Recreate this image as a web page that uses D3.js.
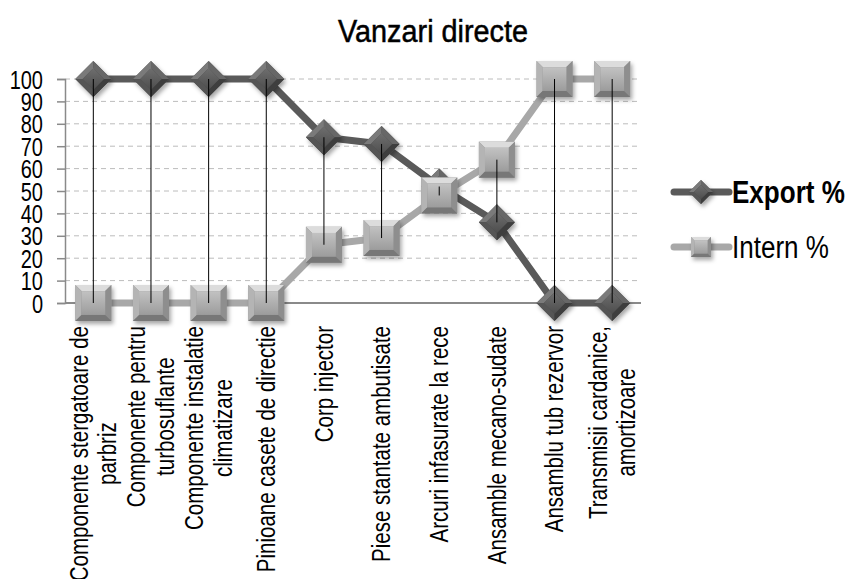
<!DOCTYPE html>
<html lang="en">
<head>
    <meta charset="UTF-8">
    <title>Vanzari directe</title>
    <script src="https://cdnjs.cloudflare.com/ajax/libs/d3/7.8.0/d3.min.js"></script>
    <style>
        body { margin: 0; background: #fff; }
        svg { display: block; }
        text { font-family: "Liberation Sans", Arial, sans-serif; fill: #000; }
    </style>
</head>
<body>

    <svg id="viz" width="854" height="579"></svg>

    <script>
        // data
        const categories = [
            ["Componente stergatoare de", "parbriz"],
            ["Componente pentru", "turbosuflante"],
            ["Componente instalatie", "climatizare"],
            ["Pinioane casete de directie"],
            ["Corp injector"],
            ["Piese stantate ambutisate"],
            ["Arcuri infasurate la rece"],
            ["Ansamble mecano-sudate"],
            ["Ansamblu tub rezervor"],
            ["Transmisii cardanice,", "amortizoare"]
        ];
        const exportValues = [100, 100, 100, 100, 74, 71, 52, 36, 0, 0];
        const internValues = [0, 0, 0, 0, 26, 29, 48, 64, 100, 100];
        const yTicks = [0, 10, 20, 30, 40, 50, 60, 70, 80, 90, 100];
        const seriesNames = ["Export %", "Intern %"];

        const svg = d3.select('#viz');
        const keys = categories.map((c, i) => i);

        const x = d3.scaleBand().domain(keys).range([64.5, 641]);
        const y = d3.scaleLinear().domain([0, 100]).range([303, 79]);
        const cx = i => x(i) + x.bandwidth() / 2;

        // no narrow font installed: squeeze the glyphs instead
        function narrow(sel, k) {
            sel.each(function () {
                const w = this.getComputedTextLength();
                d3.select(this).attr('textLength', w * k).attr('lengthAdjust', 'spacingAndGlyphs');
            });
            return sel;
        }

        // defs: shadow + gradients
        const defs = svg.append('defs');
        const f = defs.append('filter').attr('id', 'shadow')
            .attr('x', '-50%').attr('y', '-50%').attr('width', '200%').attr('height', '200%');
        f.append('feDropShadow').attr('dx', 2).attr('dy', 3).attr('stdDeviation', 2)
            .attr('flood-color', '#000').attr('flood-opacity', 0.35);

        const g1 = defs.append('linearGradient').attr('id', 'sqface').attr('x1', 0).attr('y1', 0).attr('x2', 0).attr('y2', 1);
        g1.append('stop').attr('offset', 0).attr('stop-color', '#c2c2c2');
        g1.append('stop').attr('offset', 1).attr('stop-color', '#9c9c9c');
        const g2 = defs.append('linearGradient').attr('id', 'dmface').attr('x1', 0).attr('y1', 0).attr('x2', 0).attr('y2', 1);
        g2.append('stop').attr('offset', 0).attr('stop-color', '#6e6e6e');
        g2.append('stop').attr('offset', 1).attr('stop-color', '#4e4e4e');

        // title
        narrow(svg.append('text')
            .attr('x', 433).attr('y', 42)
            .attr('text-anchor', 'middle')
            .style('font-size', '31px')
            .style('stroke', '#000').style('stroke-width', 0.5)
            .text('Vanzari directe'), 0.93);

        // grid lines
        svg.append('g').selectAll('line')
            .data(yTicks.filter(d => d > 0))
            .join('line')
            .attr('x1', 65).attr('x2', 641)
            .attr('y1', d => y(d)).attr('y2', d => y(d))
            .attr('stroke', '#bcbcbc').attr('stroke-width', 1)
            .attr('stroke-dasharray', '5,4');

        // y axis
        const yAxis = svg.append('g')
            .attr('transform', 'translate(65,0)')
            .call(d3.axisLeft(y).tickValues(yTicks).tickSize(8).tickPadding(14));
        yAxis.select('.domain').attr('stroke', '#8a8a8a').attr('stroke-width', 1.5);
        yAxis.selectAll('.tick line').attr('stroke', '#8a8a8a').attr('stroke-width', 1.5);
        narrow(yAxis.selectAll('.tick text')
            .attr('font-family', null)
            .attr('font-size', null)
            .style('font-size', '25px')
            .attr('dy', '0.36em'), 0.8);

        // zero line
        svg.append('line')
            .attr('x1', 65).attr('x2', 641)
            .attr('y1', y(0)).attr('y2', y(0))
            .attr('stroke', '#8a8a8a').attr('stroke-width', 2);

        const line = d3.line().x((d, i) => cx(i)).y(d => y(d));

        function squareMarker(g, s) {
            const h = s / 2, b = s * 0.17;
            g.append('rect').attr('x', -h).attr('y', -h).attr('width', s).attr('height', s)
                .attr('fill', '#8e8e8e').attr('filter', 'url(#shadow)');
            g.append('path').attr('d', `M${-h},${-h}L${h},${-h}L${h - b},${-h + b}L${-h + b},${-h + b}Z`).attr('fill', '#dcdcdc');
            g.append('path').attr('d', `M${-h},${-h}L${-h + b},${-h + b}L${-h + b},${h - b}L${-h},${h}Z`).attr('fill', '#b4b4b4');
            g.append('path').attr('d', `M${h},${-h}L${h - b},${-h + b}L${h - b},${h - b}L${h},${h}Z`).attr('fill', '#8e8e8e');
            g.append('path').attr('d', `M${-h},${h}L${-h + b},${h - b}L${h - b},${h - b}L${h},${h}Z`).attr('fill', '#777');
            g.append('rect').attr('x', -h + b).attr('y', -h + b).attr('width', s - 2 * b).attr('height', s - 2 * b)
                .attr('fill', 'url(#sqface)');
        }

        function diamondMarker(g, s) {
            const h = s / 2, b = s * 0.17;
            const ih = h - b * 1.2;
            g.append('path').attr('d', `M0,${-h}L${h},0L0,${h}L${-h},0Z`)
                .attr('fill', '#4a4a4a').attr('filter', 'url(#shadow)');
            g.append('path').attr('d', `M0,${-h}L${-h},0L${-ih},0L0,${-ih}Z`).attr('fill', '#7a7a7a');
            g.append('path').attr('d', `M0,${-h}L${h},0L${ih},0L0,${-ih}Z`).attr('fill', '#676767');
            g.append('path').attr('d', `M${-h},0L0,${h}L0,${ih}L${-ih},0Z`).attr('fill', '#555');
            g.append('path').attr('d', `M${h},0L0,${h}L0,${ih}L${ih},0Z`).attr('fill', '#3e3e3e');
            g.append('path').attr('d', `M0,${-ih}L${ih},0L0,${ih}L${-ih},0Z`).attr('fill', 'url(#dmface)');
        }

        // export series
        svg.append('path').datum(exportValues)
            .attr('d', line).attr('fill', 'none')
            .attr('stroke', '#5a5a5a').attr('stroke-width', 7)
            .attr('stroke-linejoin', 'round');
        svg.append('g').selectAll('g')
            .data(exportValues)
            .join('g')
            .attr('transform', (d, i) => `translate(${cx(i)},${y(d)})`)
            .each(function () { diamondMarker(d3.select(this), 36); });

        // intern series
        svg.append('path').datum(internValues)
            .attr('d', line).attr('fill', 'none')
            .attr('stroke', '#a8a8a8').attr('stroke-width', 7)
            .attr('stroke-linejoin', 'round');
        svg.append('g').selectAll('g')
            .data(internValues)
            .join('g')
            .attr('transform', (d, i) => `translate(${cx(i)},${y(d)})`)
            .each(function () { squareMarker(d3.select(this), 36); });

        // high-low lines
        svg.append('g').selectAll('line')
            .data(keys)
            .join('line')
            .attr('x1', i => cx(i)).attr('x2', i => cx(i))
            .attr('y1', i => y(exportValues[i])).attr('y2', i => y(internValues[i]))
            .attr('stroke', '#000').attr('stroke-width', 1);

        // x labels, rotated; multi-line blocks are centred line by line
        const lab = svg.append('g').selectAll('g')
            .data(categories)
            .join('g')
            .attr('transform', (d, i) => `translate(${cx(i)},326) rotate(-90)`);
        lab.each(function (lines) {
            const g = d3.select(this);
            const n = lines.length;
            const ts = lines.map((t, k) => narrow(g.append('text')
                .attr('y', (k - (n - 1) / 2) * 28.7)
                .attr('dy', '0.35em')
                .attr('text-anchor', 'middle')
                .style('font-size', '25px')
                .text(t), 0.82));
            const L = d3.max(ts, t => +t.attr('textLength'));
            ts.forEach(t => t.attr('x', -L / 2));
        });

        // legend
        const legend = svg.append('g');
        const items = [
            { name: seriesNames[0], color: '#5a5a5a', y: 192, bold: true, m: diamondMarker, s: 24 },
            { name: seriesNames[1], color: '#a8a8a8', y: 247, bold: false, m: squareMarker, s: 20 }
        ];
        items.forEach(it => {
            legend.append('line')
                .attr('x1', 674).attr('x2', 729)
                .attr('y1', it.y).attr('y2', it.y)
                .attr('stroke', it.color).attr('stroke-width', 7)
                .attr('stroke-linecap', 'round');
            it.m(legend.append('g').attr('transform', `translate(701,${it.y})`), it.s);
            narrow(legend.append('text')
                .attr('x', 732).attr('y', it.y)
                .attr('dy', '0.36em')
                .style('font-size', '31px')
                .style('font-weight', it.bold ? 'bold' : 'normal')
                .text(it.name), 0.84);
        });
    </script>
</body>
</html>
